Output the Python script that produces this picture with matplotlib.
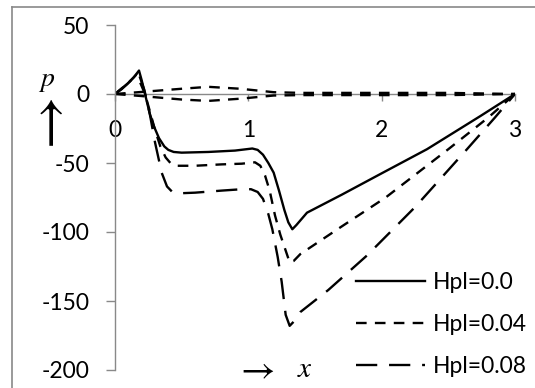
import matplotlib
matplotlib.use("Agg")
import matplotlib.pyplot as plt
from matplotlib.lines import Line2D

plt.rcParams['font.family'] = ['Lato', 'DejaVu Sans']
plt.rcParams['mathtext.fontset'] = 'stix'
plt.rcParams['axes.unicode_minus'] = False

# pressure profiles p(x) for three plate heights
x_h0 = [0, 0.05, 0.09, 0.14, 0.18, 0.20, 0.225, 0.26, 0.29, 0.33, 0.37, 0.40, 0.44, 0.50, 0.70, 0.90,
        1.03, 1.07, 1.11, 1.15, 1.19, 1.23, 1.27, 1.30, 1.33, 1.36, 1.44, 1.70, 1.99, 2.34, 2.74, 3.0]
p_h0 = [0, 3.5, 7, 12, 17, 10, 0, -14, -23, -32, -38, -40.5, -42, -42.5, -42, -41,
        -39.5, -40.5, -44, -50, -57, -70, -84, -93, -98, -95, -86, -73, -58, -40, -16, 0]

x_h04 = [0, 0.05, 0.10, 0.16, 0.19, 0.225, 0.26, 0.30, 0.34, 0.38, 0.42, 0.46, 0.60, 0.80, 0.95, 1.05,
         1.09, 1.125, 1.16, 1.20, 1.24, 1.275, 1.31, 1.34, 1.39, 1.70, 2.03, 2.50, 2.80, 3.0]
p_h04 = [0, 4, 8, 14, 8, 0, -12, -26, -38, -46, -50.5, -52, -52, -51, -50.5, -49.5,
         -52, -59, -70, -88, -102, -112, -122, -121, -116, -96, -75, -40, -17, 0]

x_h08 = [0, 0.05, 0.10, 0.15, 0.18, 0.22, 0.26, 0.30, 0.35, 0.39, 0.43, 0.47, 0.60, 0.80, 0.95, 1.02,
         1.07, 1.11, 1.15, 1.18, 1.22, 1.25, 1.28, 1.31, 1.34, 1.39, 1.60, 1.89, 2.25, 2.64, 2.85, 3.0]
p_h08 = [0, 4, 8, 13, 14, 3, -14, -35, -57, -67, -71, -72, -71.5, -70, -69, -69,
         -71, -76, -87, -98, -118, -136, -160, -168, -165, -158, -142, -117, -82, -40, -17, 0]

# small components near zero
x_zero = [0, 0.2, 0.5, 0.7, 0.94, 1.19, 1.4, 1.7, 2.0, 2.5, 3.0]
p_up = [0, 1.5, 3.8, 5.2, 3.8, 1.3, 0.8, 0.8, 0.8, 0.8, 0]
p_dn = [0, -1.5, -4.0, -5.0, -3.4, -1.1, -0.8, -0.8, -0.8, -0.8, 0]

labels = ['Hpl=0.0', 'Hpl=0.04', 'Hpl=0.08']
xticks = [0, 1, 2, 3]
yticks = [-200, -150, -100, -50, 0, 50]

W, H = 535, 388
fig = plt.figure(figsize=(W / 100, H / 100), dpi=100)
ax = fig.add_axes([115 / W, 18 / H, 400 / W, 345 / H])

grey = '#898989'
lw = 1.7
short = (4.5, 3.5)
long_ = (9, 5)

ax.plot(x_zero, p_up, color='k', lw=lw, dashes=short)
ax.plot(x_zero, p_dn, color='k', lw=lw, dashes=short)
ax.plot(x_h0, p_h0, color='k', lw=lw, label=labels[0])
ax.plot(x_h04, p_h04, color='k', lw=lw, dashes=short, label=labels[1])
ax.plot(x_h08, p_h08, color='k', lw=lw, dashes=long_, label=labels[2])

ax.set_xlim(0, 3)
ax.set_ylim(-200, 50)
ax.set_xticks(xticks)
ax.set_yticks(yticks)

for s in ['top', 'right']:
    ax.spines[s].set_visible(False)
ax.spines['bottom'].set_position(('data', 0))
ax.spines['bottom'].set_zorder(0)
for s in ['left', 'bottom']:
    ax.spines[s].set_color(grey)
    ax.spines[s].set_linewidth(1)

ax.tick_params(axis='y', direction='out', length=6.5, width=1, color=grey, pad=12, labelsize=16.5)
ax.tick_params(axis='x', direction='out', length=5, width=1, color=grey, pad=14, labelsize=16.5)

ax.legend(loc='upper left', bbox_to_anchor=(356 / W, 1 - 272 / H), bbox_transform=fig.transFigure,
          frameon=False, fontsize=16.5, handlelength=3.0, handletextpad=0.35,
          labelspacing=0.92, borderpad=0, borderaxespad=0)

# axis captions
fig.text(46.5 / W, 1 - 81 / H, r'$p$', fontsize=20, ha='center', va='center')
fig.text(45.5 / W, 1 - 97 / H, r'$\uparrow$', fontsize=40, ha='center', va='top')
fig.text(255 / W, 1 - 368 / H, r'$\rightarrow$', fontsize=27, ha='center', va='center')
fig.text(304.5 / W, 1 - 369 / H, r'$x$', fontsize=21, ha='center', va='center')

# chart area border
fig.add_artist(Line2D([12 / W, 12 / W], [0, 1 - 6.5 / H], color=grey, lw=1.2))
fig.add_artist(Line2D([12 / W, 1], [1 - 6.5 / H, 1 - 6.5 / H], color=grey, lw=1.2))

fig.savefig('out.png', dpi=100)
